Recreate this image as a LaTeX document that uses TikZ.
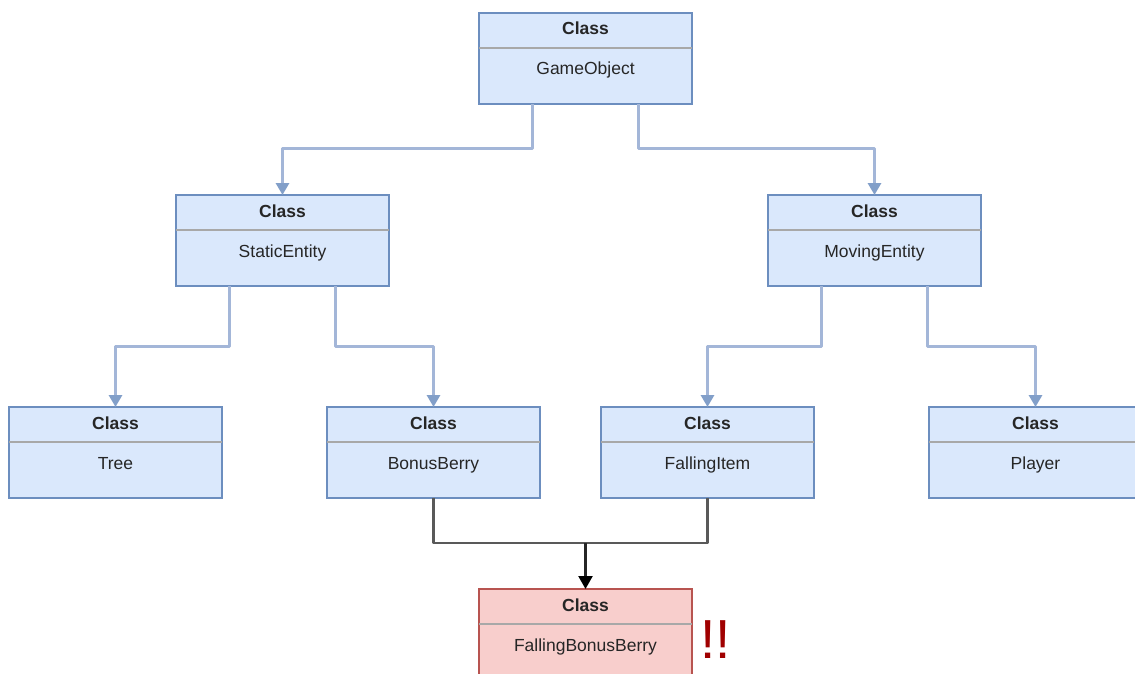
\documentclass[tikz,border=0pt]{standalone}
\usepackage{fontspec}
\setmainfont{Liberation Sans}
\usetikzlibrary{arrows.meta,calc}
\definecolor{bfill}{HTML}{DAE8FC}
\definecolor{bdraw}{HTML}{6C8EBF}
\definecolor{rfill}{HTML}{F8CECC}
\definecolor{rdraw}{HTML}{B85450}
\definecolor{divc}{HTML}{A8A8A8}
\definecolor{blink}{HTML}{A3B6D8}
\definecolor{warn}{HTML}{A00000}
\definecolor{txt}{HTML}{262626}
\tikzset{
  cls/.style={draw=bdraw, fill=bfill, line width=1.3pt, minimum width=213pt,
    minimum height=91pt, inner sep=0pt, outer sep=0pt, anchor=north west},
  clsred/.style={cls, draw=rdraw, fill=rfill},
  hdr/.style={font=\fontsize{17.5}{20}\selectfont\bfseries, text=txt, inner sep=0pt, anchor=base},
  bodytxt/.style={font=\fontsize{17.5}{20}\selectfont, text=txt, inner sep=0pt, anchor=base},
  divider/.style={draw=divc, line width=1.2pt},
  inh/.style={draw=blink, line width=3pt, line join=round,
    -{Triangle[width=13pt,length=12pt,color=bdraw!85]}},
  dep/.style={draw=black!65, line width=2.3pt, line join=round},
  deparrow/.style={draw=black!85, line width=2.3pt,
    -{Triangle[width=14pt,length=13pt,color=black]}},
  warnmark/.style={font=\fontsize{55}{60}\selectfont, text=warn, inner sep=0pt, anchor=base west}
}
\newcommand\umlcls[5]{%
  \node[#5] (#1) at (#2,#3) {};
  \node[hdr] (#1-h) at ($(#1.north)+(0,22)$) {Class};
  \draw[divider] ($(#1.north west)+(0,35)$) -- ($(#1.north east)+(0,35)$);
  \node[bodytxt] (#1-b) at ($(#1.north)+(0,62)$) {#4};
}
\begin{document}
\begin{tikzpicture}[x=1pt, y=-1pt]
  \useasboundingbox[clip] (0,0) rectangle (1135,674);
  \fill[white] (0,0) rectangle (1135,674);

  \umlcls{go}{479}{13}{GameObject}{cls}
  \umlcls{se}{176}{195}{StaticEntity}{cls}
  \umlcls{me}{768}{195}{MovingEntity}{cls}
  \umlcls{tree}{9}{407}{Tree}{cls}
  \umlcls{bb}{327}{407}{BonusBerry}{cls}
  \umlcls{fi}{601}{407}{FallingItem}{cls}
  \umlcls{pl}{929}{407}{Player}{cls}
  \umlcls{fbb}{479}{589}{FallingBonusBerry}{clsred}

  \node[warnmark] (warn) at (700,658) {!!};

  % inheritance connectors
  \draw[inh] ($(go.south west)!0.25!(go.south east)$) -- ++(0,45) -| (se.north);
  \draw[inh] ($(go.south west)!0.75!(go.south east)$) -- ++(0,45) -| (me.north);
  \draw[inh] ($(se.south west)!0.25!(se.south east)$) -- ++(0,60) -| (tree.north);
  \draw[inh] ($(se.south west)!0.75!(se.south east)$) -- ++(0,60) -| (bb.north);
  \draw[inh] ($(me.south west)!0.25!(me.south east)$) -- ++(0,60) -| (fi.north);
  \draw[inh] ($(me.south west)!0.75!(me.south east)$) -- ++(0,60) -| (pl.north);

  % merge into FallingBonusBerry
  \coordinate (j) at ($(fbb.north)+(0,-46)$);
  \draw[dep] (bb.south) |- (j) -| (fi.south);
  \draw[deparrow] (j) -- (fbb.north);
\end{tikzpicture}
\end{document}
